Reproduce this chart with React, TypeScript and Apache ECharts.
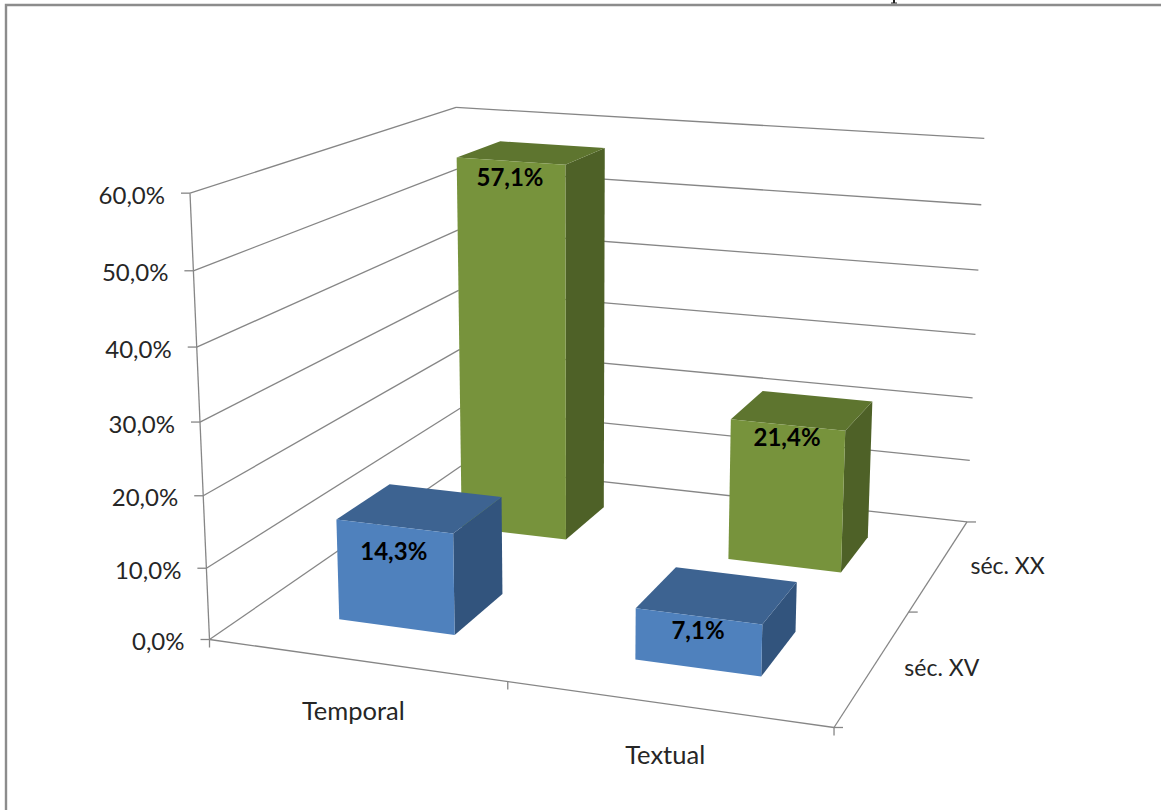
import React, { useEffect, useRef } from "react";
import * as echarts from "echarts";

// Chart content
const themes = ["Temporal", "Textual"];
const periods = ["séc. XV", "séc. XX"];
const secXV = [14.3, 7.1];
const secXX = [57.1, 21.4];
const valueTicks = [0, 10, 20, 30, 40, 50, 60];

const FONT = "Lato, 'Open Sans', sans-serif";
const LINE = "#868686";
const W = 1161;
const H = 810;

// Colours of the three visible faces of a column
const faces = [
  { front: "#4F81BD", top: "#3D6391", side: "#32547D" },
  { front: "#77933C", top: "#5E752F", side: "#4E6127" },
];

// Distance of each value label below the top edge of its column's front face, by period then theme
const labelDrop = [
  [24, 13],
  [15, 11],
];

// Perspective camera: unit box (u along themes, v along periods, w up) to screen pixels
const project = (u: number, v: number, w: number): number[] => {
  const den = -0.08576 * u + 0.25673 * v - 0.05 * w + 1;
  return [
    (553 * u + 369.85 * v - 29 * w + 209.5) / den,
    (25.6 * u - 53.9 * v - 456 * w + 639.5) / den,
  ];
};

const percent = (n: number) => n.toFixed(1).replace(".", ",") + "%";
const uOf = (px: number) => px / W;
const wOf = (py: number) => (H - py) / H;

const line = (a: number[], b: number[]) => ({
  type: "line",
  shape: { x1: a[0], y1: a[1], x2: b[0], y2: b[1] },
  style: { stroke: LINE, lineWidth: 1.3 },
});

const label = (text: string, x: number, y: number, align: string, size = 24, weight = 400) => ({
  type: "text",
  style: {
    text,
    x,
    y,
    align,
    verticalAlign: "middle",
    fill: weight > 400 ? "#000000" : "#262626",
    font: `${weight} ${size}px ${FONT}`,
  },
});

// Walls, floor, ticks and axis labels of the box
const renderBox = (_: any, api: any) => {
  const wAt = (value: number) => wOf(api.coord([0, value])[1]);
  const children: any[] = [];
  valueTicks.forEach((tick) => {
    const w = wAt(tick);
    const front = project(0, 0, w);
    const back = project(0, 1, w);
    children.push(line(front, back), line(back, project(1, 1, w)));
    children.push(line([front[0] - 9, front[1]], front));
    children.push(label(percent(tick), front[0] - 25, front[1] + 1, "right"));
  });
  children.push(line(project(0, 0, 0), project(0, 0, 1)));
  children.push(line(project(0, 0, 0), project(1, 0, 0)));
  children.push(line(project(1, 0, 0), project(1, 1, 0)));
  [0, 0.5, 1].forEach((u) => {
    const p = project(u, 0, 0);
    children.push(line(p, [p[0], p[1] + 8]));
    const q = project(1, u, 0);
    children.push(line(q, [q[0] + 9, q[1]]));
  });
  themes.forEach((name, i) => {
    const p = project(uOf(api.coord([i, 0])[0]), 0, 0);
    children.push(label(name, p[0] - 2, p[1] + 50, "center", 25.5));
  });
  periods.forEach((name, i) => {
    const p = project(1, (i + 0.5) / periods.length, 0);
    children.push(label(name, p[0] + 68, p[1] + 1, "center", 23));
  });
  return { type: "group", children };
};

// One column of the chart: front, top and side faces plus its value label
const renderColumn = (depth: number) => (_: any, api: any) => {
  const cat = api.value(0);
  const value = api.value(1);
  const base = api.coord([cat, 0]);
  const topPt = api.coord([cat, value]);
  const band = uOf(api.size([1, 0])[0]);
  const u0 = uOf(base[0]) - band * 0.2;
  const u1 = uOf(base[0]) + band * 0.2;
  const vBand = 1 / periods.length;
  const v0 = (depth + 0.5) * vBand - vBand * 0.2;
  const v1 = (depth + 0.5) * vBand + vBand * 0.2;
  const wTop = wOf(topPt[1]);
  const c = faces[depth];
  const poly = (pts: number[][], fill: string) => ({
    type: "polygon",
    shape: { points: pts },
    style: { fill },
  });
  const ftl = project(u0, v0, wTop);
  const ftr = project(u1, v0, wTop);
  return {
    type: "group",
    children: [
      poly([project(u1, v0, 0), project(u1, v1, 0), project(u1, v1, wTop), ftr], c.side),
      poly([ftl, ftr, project(u1, v1, wTop), project(u0, v1, wTop)], c.top),
      poly([project(u0, v0, 0), project(u1, v0, 0), ftr, ftl], c.front),
      label(
        percent(value),
        (ftl[0] + ftr[0]) / 2 - 1,
        (ftl[1] + ftr[1]) / 2 + labelDrop[depth][cat],
        "center",
        24,
        700
      ),
    ],
  };
};

const columnSeries = (name: string, values: number[], depth: number, z: number) => ({
  type: "custom",
  name,
  z,
  silent: true,
  clip: false,
  renderItem: renderColumn(depth),
  encode: { x: 0, y: 1 },
  data: values.map((v, i) => [i, v]),
});

export default function App() {
  const ref = useRef<HTMLDivElement>(null);
  useEffect(() => {
    const chart = echarts.init(ref.current!, undefined, { renderer: "svg" });
    chart.setOption({
      animation: false,
      backgroundColor: "#ffffff",
      grid: { left: 0, top: 0, width: W, height: H },
      xAxis: { type: "category", data: themes, show: false },
      yAxis: { type: "value", min: 0, max: 60, interval: 10, show: false },
      graphic: [
        {
          type: "polyline",
          shape: { points: [[6, H], [6, 5], [W, 5]] },
          style: { stroke: "#8C8C8C", lineWidth: 2.4, fill: "none" },
          z: 0,
        },
        // Foot of a cut-off letter from the page text above the frame
        { type: "rect", shape: { x: 893, y: 0, width: 2, height: 3 }, style: { fill: "#222222" } },
        { type: "rect", shape: { x: 891, y: 2.5, width: 6, height: 1 }, style: { fill: "#222222" } },
      ],
      series: [
        {
          type: "custom",
          name: "box",
          z: 1,
          silent: true,
          clip: false,
          renderItem: renderBox,
          encode: { x: 0, y: 1 },
          data: [[0, 0]],
        },
        columnSeries(periods[1], secXX, 1, 2),
        columnSeries(periods[0], secXV, 0, 3),
      ],
    });
    return () => chart.dispose();
  }, []);
  return (
    <div
      ref={ref}
      style={{ position: "fixed", left: 0, top: 0, width: W, height: H, background: "#fff" }}
    />
  );
}
